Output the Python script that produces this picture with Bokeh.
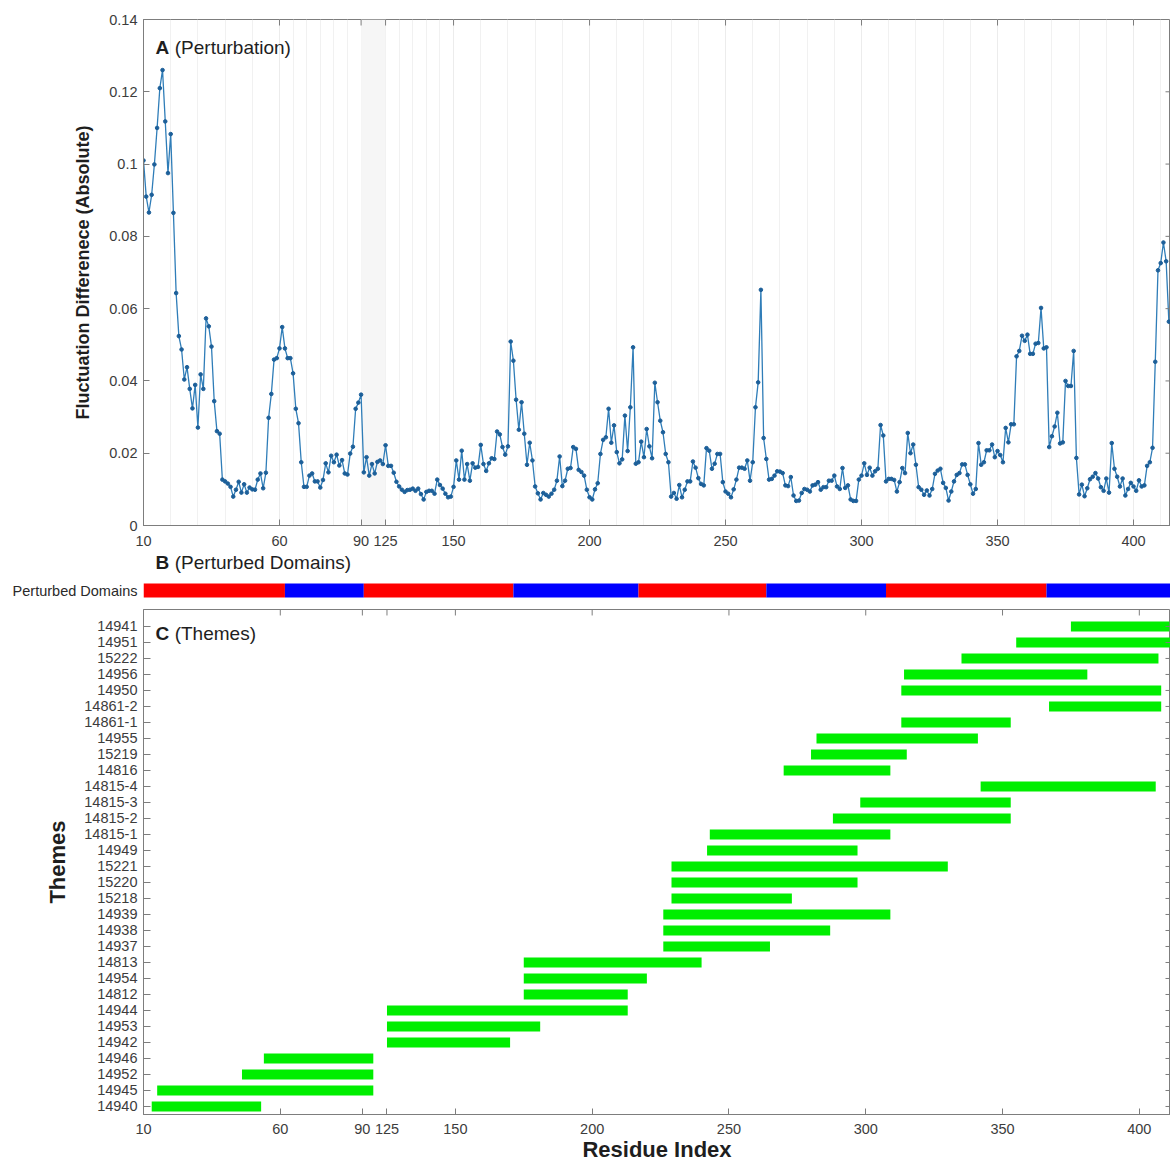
from bokeh.plotting import figure
from bokeh.models import Range1d, FixedTicker, Label
from bokeh.layouts import column
from bokeh.embed import file_html
from bokeh.resources import INLINE

# ---------------- data ----------------
# Panel A: fluctuation difference, one value per sequence position (left to right)
fluct_diff = [
    0.101, 0.091, 0.0866, 0.0915, 0.0999, 0.110, 0.121, 0.126, 0.1118, 0.0975, 0.1083, 0.0865, 0.0643, 0.0524,
    0.0487, 0.0404, 0.0438, 0.0378, 0.0324, 0.0389, 0.0271, 0.0418, 0.0378, 0.0573, 0.0551, 0.0495, 0.0344,
    0.0261, 0.0254, 0.0127, 0.0122, 0.0116, 0.0107, 0.0080, 0.0099, 0.0121, 0.0091, 0.0114, 0.0091, 0.0105,
    0.0100, 0.0099, 0.0127, 0.0144, 0.0103, 0.0146,
    0.0298, 0.0364, 0.0459, 0.0463, 0.049, 0.0549, 0.049, 0.0463, 0.0463, 0.0421, 0.0323, 0.0283, 0.0175,
    0.0107, 0.0107, 0.0138, 0.0144, 0.0122, 0.0122, 0.0105, 0.0126, 0.0172, 0.0147, 0.0193, 0.0175, 0.0196,
    0.0166, 0.0181, 0.0144, 0.0141, 0.0199, 0.0218, 0.0323, 0.034, 0.0362,
    0.0147, 0.0189, 0.0138, 0.017, 0.0144, 0.0176, 0.018, 0.017, 0.0222, 0.0165, 0.0165, 0.0146, 0.0121,
    0.0108, 0.0099, 0.0093, 0.0098, 0.0099, 0.0102, 0.0096, 0.0102, 0.0087, 0.0072, 0.0093, 0.0096, 0.0096,
    0.0088, 0.0127, 0.0112, 0.0102, 0.0088, 0.0078, 0.0080, 0.0107, 0.018, 0.0127, 0.0207, 0.0127, 0.017,
    0.0124, 0.0172, 0.016, 0.0162, 0.0223, 0.017, 0.0151, 0.0172, 0.0186, 0.0184, 0.026, 0.0252,
    0.0217, 0.0196, 0.0219, 0.0509, 0.0456, 0.0348, 0.0265, 0.0341, 0.0254, 0.0168,
    0.0229, 0.018, 0.0108, 0.0089, 0.0072, 0.009, 0.0085, 0.008, 0.0088, 0.0099,
    0.0124, 0.0191, 0.0109, 0.0124, 0.0157, 0.0159, 0.0217, 0.0212, 0.0154, 0.0148,
    0.0138, 0.0099, 0.0078, 0.0072, 0.01, 0.0117, 0.0198, 0.0237, 0.0244, 0.0323,
    0.0229, 0.0277, 0.0203, 0.0172, 0.0183, 0.0304, 0.0206, 0.0327, 0.0493, 0.0171,
    0.0175, 0.0232, 0.0189, 0.0267, 0.0219, 0.0186, 0.0395, 0.0341, 0.029, 0.0258,
    0.0198, 0.0175, 0.008, 0.009, 0.0074, 0.0112, 0.0078, 0.0099, 0.0122, 0.0122,
    0.0177, 0.016, 0.0131, 0.0115, 0.0111, 0.0214, 0.0207, 0.0157, 0.0171, 0.0198,
    0.0198, 0.012, 0.0094, 0.0088, 0.0078, 0.01, 0.0127, 0.016, 0.016, 0.0157, 0.018,
    0.0124, 0.0175, 0.0327, 0.0396, 0.0652, 0.0242, 0.0184, 0.0127, 0.0129, 0.0138,
    0.015, 0.0149, 0.0145, 0.0111, 0.0109, 0.0134, 0.0083, 0.0068, 0.0069, 0.009,
    0.0101, 0.0099, 0.0094, 0.0111, 0.0113, 0.012, 0.0099, 0.0106, 0.0106, 0.0124,
    0.0124, 0.0138, 0.0108, 0.0101, 0.0159, 0.0104, 0.0111, 0.0072, 0.0068, 0.0068, 0.0127, 0.0138,
    0.0172, 0.014, 0.016, 0.0138, 0.015, 0.0157, 0.0278, 0.0249, 0.0122, 0.0129,
    0.0129, 0.0126, 0.0094, 0.012, 0.0159, 0.0145, 0.0256, 0.02, 0.0224, 0.0168,
    0.0106, 0.0099, 0.0085, 0.0097, 0.0083, 0.0101, 0.0143, 0.0152, 0.0157, 0.0118,
    0.0104, 0.0069, 0.0094, 0.0122, 0.014, 0.0145, 0.0169, 0.0169, 0.014, 0.0114,
    0.0088, 0.0101, 0.0228, 0.0168, 0.0175, 0.0208, 0.0208, 0.0224, 0.0189, 0.0206,
    0.0195, 0.0175, 0.027, 0.023, 0.028, 0.028, 0.0468, 0.0483, 0.0525, 0.0511,
    0.0528, 0.0475, 0.0475, 0.0503, 0.0505, 0.0602, 0.049, 0.0493, 0.0217, 0.0247,
    0.0274, 0.0312, 0.0227, 0.023, 0.04, 0.0386, 0.0386, 0.0483, 0.0187, 0.0086,
    0.0113, 0.0081, 0.0103, 0.0128, 0.0135, 0.0145, 0.013, 0.0106, 0.0096, 0.013,
    0.0091, 0.0228, 0.0157, 0.0135, 0.0108, 0.013, 0.0083, 0.0101, 0.0118, 0.0108,
    0.0096, 0.0125, 0.0108, 0.0111, 0.0165, 0.0175, 0.0215, 0.0453, 0.0706, 0.0726, 0.0783, 0.0731, 0.0564,
]

tick_residues = [10, 60, 90, 125, 150, 200, 250, 300, 350, 400]
minor_residues = [20, 30, 40, 50, 65, 70, 75, 80, 85, 130, 135, 140, 145,
                  160, 170, 180, 190, 210, 220, 230, 240, 260, 270, 280, 290,
                  310, 320, 330, 340, 360, 370, 380, 390, 410]
gap_residues = [90, 125]

y_ticks = [0, 0.02, 0.04, 0.06, 0.08, 0.1, 0.12, 0.14]
y_tick_labels = ["0", "0.02", "0.04", "0.06", "0.08", "0.1", "0.12", "0.14"]

# Panel B: perturbed domains (residue boundaries, alternating colours)
domain_bounds = [10, 62, 91, 172, 218, 265, 309, 368, 414]
domain_colors = ["#ff0000", "#0000ff", "#ff0000", "#0000ff",
                 "#ff0000", "#0000ff", "#ff0000", "#0000ff"]

# Panel C: themes (top to bottom), residue start / end
theme_names = ["14941", "14951", "15222", "14956", "14950", "14861-2", "14861-1", "14955",
               "15219", "14816", "14815-4", "14815-3", "14815-2", "14815-1", "14949", "15221",
               "15220", "15218", "14939", "14938", "14937", "14813", "14954", "14812",
               "14944", "14953", "14942", "14946", "14952", "14945", "14940"]
theme_start = [375, 355, 335, 314, 313, 367, 313, 282, 280, 270, 342, 298, 288, 243, 242, 229,
               229, 229, 226, 226, 226, 175, 175, 175, 125, 125, 125, 54, 46, 15, 13]
theme_end = [411, 415, 407, 381, 408, 408, 353, 341, 315, 309, 406, 353, 353, 309, 297, 330,
             297, 273, 309, 287, 265, 240, 220, 213, 213, 181, 170, 94, 94, 94, 53]


def res_to_pos(r):
    """Residue number -> position along the compressed sequence axis."""
    return r - 10 if r < 125 else r - 36


FONT = "Liberation Sans"
AX = "#7d7d7d"
TXT = "#3c3c3c"
LAB = "#1e1e1e"

positions = list(range(len(fluct_diff)))
x_ticks = [res_to_pos(r) for r in tick_residues]
x_minor = [res_to_pos(r) for r in minor_residues]
x_overrides = {res_to_pos(r): str(r) for r in tick_residues}


def style_axis(ax, tick_in=6):
    ax.axis_line_color = AX
    ax.major_tick_line_color = AX
    ax.major_tick_in = tick_in
    ax.major_tick_out = 0
    ax.minor_tick_line_color = None
    ax.major_label_text_font = FONT
    ax.major_label_text_font_size = "14.5px"
    ax.major_label_text_color = TXT


def box_ticks(p, xr, yr, xt, yt, top_len_px, right_len_px, frame_w, frame_h):
    """Inward tick marks on the top and right edges of the box (MATLAB 'box on')."""
    dy = top_len_px * (yr[1] - yr[0]) / frame_h
    dx = right_len_px * (xr[1] - xr[0]) / frame_w
    p.segment(x0=xt, x1=xt, y0=[yr[1]] * len(xt), y1=[yr[1] - dy] * len(xt),
              line_color=AX, line_width=1)
    p.segment(x0=[xr[1]] * len(yt), x1=[xr[1] - dx] * len(yt), y0=yt, y1=yt,
              line_color=AX, line_width=1)


# ---------------- panel A ----------------
xrA = (0, 377.6)
yrA = (0, 0.14)
pA = figure(width=1170, height=550, x_range=Range1d(*xrA), y_range=Range1d(*yrA),
            output_backend="svg", toolbar_location=None,
            min_border_left=143, min_border_right=0, min_border_top=19, min_border_bottom=25)
pA.outline_line_color = AX
pA.background_fill_color = "white"

pA.xaxis.ticker = FixedTicker(ticks=x_ticks, minor_ticks=x_minor)
pA.xaxis.major_label_overrides = x_overrides
style_axis(pA.xaxis[0])
pA.xaxis.major_label_standoff = 6

pA.yaxis.ticker = FixedTicker(ticks=y_ticks)
pA.yaxis.major_label_overrides = {t: l for t, l in zip(y_ticks, y_tick_labels)}
style_axis(pA.yaxis[0])
pA.yaxis.major_label_standoff = 6
pA.yaxis.axis_label = "Fluctuation Differenece (Absolute)"
pA.yaxis.axis_label_text_font = FONT
pA.yaxis.axis_label_text_font_style = "bold"
pA.yaxis.axis_label_text_font_size = "18px"
pA.yaxis.axis_label_text_color = LAB
pA.yaxis.axis_label_standoff = 13

pA.ygrid.grid_line_color = None
pA.xgrid.grid_line_color = "#ececec"
pA.xgrid.minor_grid_line_color = "#f1f1f1"

# shaded gap between 90 and 125
pA.quad(left=[res_to_pos(gap_residues[0])], right=[res_to_pos(gap_residues[1])],
        bottom=[yrA[0]], top=[yrA[1]], fill_color="#f6f6f6", line_color=None)

pA.line(positions, fluct_diff, line_color="#2f7db8", line_width=1.3)
pA.scatter(positions, fluct_diff, size=3.6, fill_color="#1c5f99", line_color="#1c5f99")

box_ticks(pA, xrA, yrA, x_ticks, y_ticks[1:-1], 6, 5, 1027, 506)

pA.add_layout(Label(x=4.4, y=0.1323, text="A", text_font=FONT, text_font_style="bold",
                    text_font_size="19px", text_baseline="middle", text_color=LAB))
pA.add_layout(Label(x=11.5, y=0.1323, text="(Perturbation)", text_font=FONT,
                    text_font_size="19px", text_baseline="middle", text_color=LAB))

# ---------------- panel B ----------------
pB = figure(width=1170, height=56, x_range=Range1d(*xrA), y_range=Range1d(56, 0),
            output_backend="svg", toolbar_location=None, x_axis_location=None,
            min_border_left=143, min_border_right=0, min_border_top=0, min_border_bottom=0)
pB.outline_line_color = None
pB.grid.grid_line_color = None
pB.yaxis.ticker = FixedTicker(ticks=[40])
pB.yaxis.major_label_overrides = {40: "Perturbed Domains"}
style_axis(pB.yaxis[0], tick_in=0)
pB.yaxis.axis_line_color = None
pB.yaxis.major_tick_line_color = None
pB.yaxis.major_label_standoff = 6
pB.yaxis.major_label_text_color = "#2a2a2a"

pB.quad(left=[res_to_pos(b) for b in domain_bounds[:-1]],
        right=[res_to_pos(b) for b in domain_bounds[1:]],
        top=33, bottom=47, fill_color=domain_colors, line_color=None)

pB.add_layout(Label(x=4.4, y=12, text="B", text_font=FONT, text_font_style="bold",
                    text_font_size="19px", text_baseline="middle", text_color=LAB))
pB.add_layout(Label(x=11.5, y=12, text="(Perturbed Domains)", text_font=FONT,
                    text_font_size="19px", text_baseline="middle", text_color=LAB))

# ---------------- panel C ----------------
n = len(theme_names)
rows = [n - 1 - k for k in range(n)]
xrC = (0, 375.4)
yrC = (-0.5, 31.06)
pC = figure(width=1170, height=558, x_range=Range1d(*xrC), y_range=Range1d(*yrC),
            output_backend="svg", toolbar_location=None,
            min_border_left=143, min_border_right=0, min_border_top=3, min_border_bottom=48)
pC.outline_line_color = AX
pC.grid.grid_line_color = None

pC.xaxis.ticker = FixedTicker(ticks=x_ticks)
pC.xaxis.major_label_overrides = x_overrides
style_axis(pC.xaxis[0])
pC.xaxis.major_label_standoff = 9
pC.xaxis.axis_label = "Residue Index"
pC.xaxis.axis_label_text_font = FONT
pC.xaxis.axis_label_text_font_style = "bold"
pC.xaxis.axis_label_text_font_size = "22px"
pC.xaxis.axis_label_text_color = LAB
pC.xaxis.axis_label_standoff = 0

pC.yaxis.ticker = FixedTicker(ticks=rows)
pC.yaxis.major_label_overrides = {r: nm for r, nm in zip(rows, theme_names)}
style_axis(pC.yaxis[0], tick_in=7)
pC.yaxis.major_label_standoff = 6
pC.yaxis.axis_label = "Themes"
pC.yaxis.axis_label_text_font = FONT
pC.yaxis.axis_label_text_font_style = "bold"
pC.yaxis.axis_label_text_font_size = "22px"
pC.yaxis.axis_label_text_color = LAB
pC.yaxis.axis_label_standoff = 11

pC.hbar(y=rows, left=[res_to_pos(s) for s in theme_start],
        right=[res_to_pos(e) for e in theme_end], height=0.62,
        fill_color="#00ee00", line_color=None)

box_ticks(pC, xrC, yrC, x_ticks, rows, 6, 5, 1027, 507)

pC.add_layout(Label(x=4.4, y=29.57, text="C", text_font=FONT, text_font_style="bold",
                    text_font_size="19px", text_baseline="middle", text_color=LAB))
pC.add_layout(Label(x=11.4, y=29.57, text="(Themes)", text_font=FONT,
                    text_font_size="19px", text_baseline="middle", text_color=LAB))

layout = column(pA, pB, pC, spacing=0)
open("out.html", "w").write(file_html(layout, INLINE))
